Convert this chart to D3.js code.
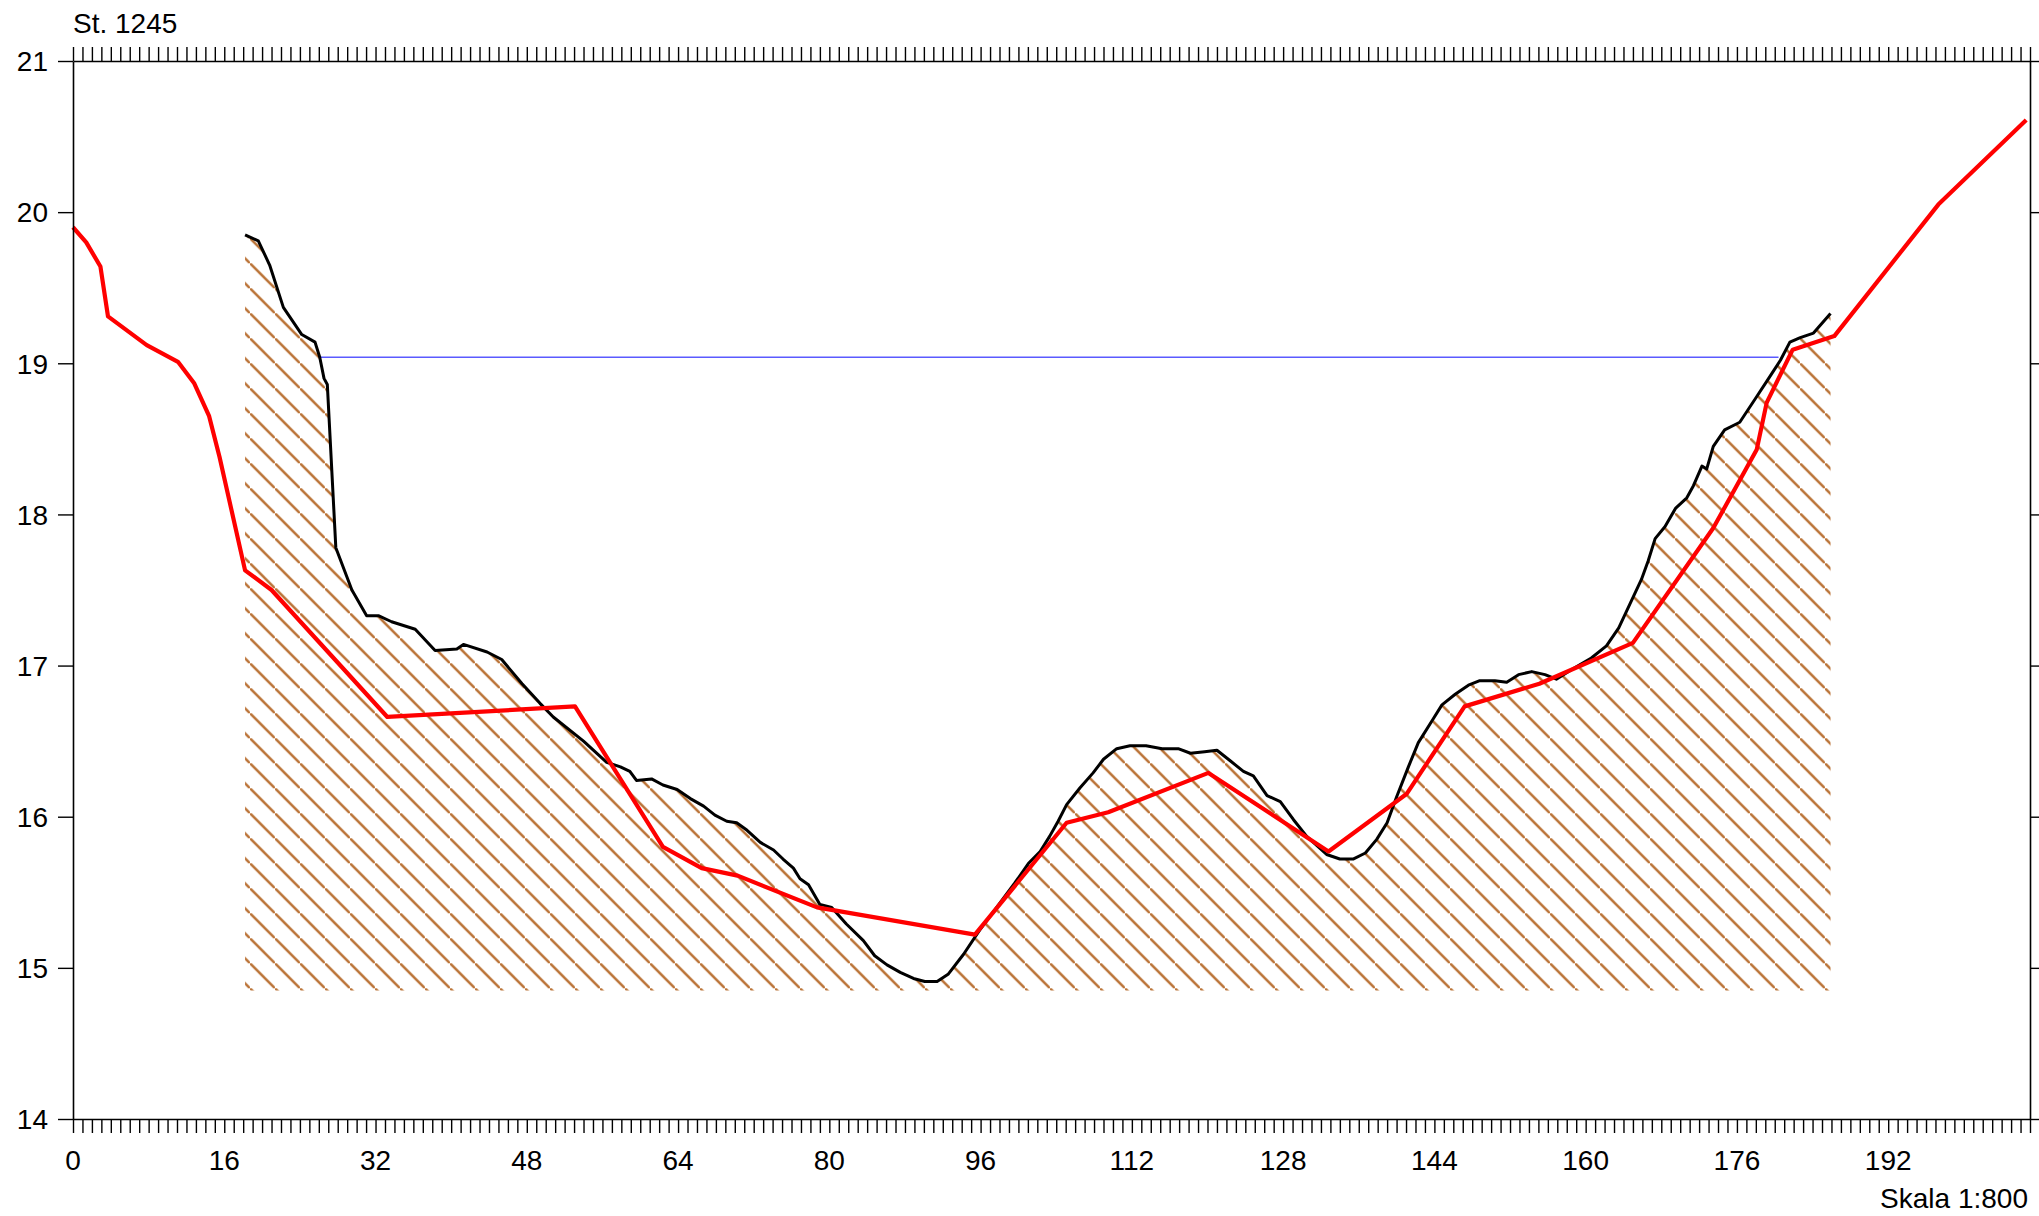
<!DOCTYPE html>
<html>
<head>
<meta charset="utf-8">
<script src="https://cdn.jsdelivr.net/npm/d3@7"></script>
<style>
  html, body { margin: 0; padding: 0; background: #fff; }
  svg { display: block; font-family: "Liberation Sans", Arial, sans-serif; }
</style>
</head>
<body>
<div id="chart"></div>
<script>
// profile data: [station, elevation]
const terrain = [
  [18.2,19.85],[19.6,19.81],[20.8,19.65],[22.25,19.37],[24.2,19.19],[25.6,19.14],[26.1,19.04],
  [26.55,18.90],[26.9,18.86],[27.8,17.78],[29.5,17.50],[31.06,17.33],[32.3,17.33],[33.7,17.29],
  [36.2,17.24],[38.3,17.10],[40.6,17.11],[41.3,17.14],[43.8,17.09],[45.35,17.04],[47.5,16.88],
  [49.4,16.75],[50.8,16.66],[54.0,16.50],[56.45,16.36],[57.9,16.33],[58.9,16.30],[59.6,16.24],
  [61.2,16.25],[62.4,16.21],[63.9,16.18],[65.3,16.12],[66.7,16.07],[67.9,16.01],[69.15,15.97],
  [70.2,15.96],[71.3,15.91],[72.7,15.83],[74.1,15.78],[75.1,15.72],[76.2,15.66],[76.9,15.59],
  [77.8,15.55],[79.0,15.42],[80.25,15.40],[81.8,15.29],[83.6,15.18],[84.8,15.08],[86.1,15.02],
  [87.5,14.97],[88.9,14.93],[90.1,14.91],[91.4,14.91],[92.6,14.96],[94.2,15.09],[95.9,15.25],
  [97.7,15.40],[99.6,15.56],[101.05,15.69],[102.3,15.77],[103.3,15.87],[104.2,15.97],[105.1,16.08],
  [106.5,16.19],[107.9,16.29],[109.0,16.38],[110.4,16.45],[111.8,16.47],[113.5,16.47],[115.2,16.45],
  [116.9,16.45],[118.2,16.42],[119.7,16.43],[121.0,16.44],[122.4,16.37],[123.8,16.30],[124.85,16.27],
  [126.3,16.14],[127.7,16.10],[129.1,15.98],[130.5,15.87],[131.55,15.81],[132.6,15.75],[134.0,15.72],
  [135.4,15.72],[136.7,15.76],[137.9,15.85],[139.0,15.96],[140.0,16.13],[141.25,16.33],[142.3,16.49],
  [143.9,16.65],[144.8,16.74],[146.2,16.81],[147.6,16.87],[148.8,16.90],[150.4,16.90],[151.65,16.89],
  [152.9,16.94],[154.3,16.96],[155.7,16.94],[156.9,16.91],[158.7,16.98],[160.6,17.05],[162.2,17.13],
  [163.5,17.25],[164.7,17.41],[165.9,17.57],[166.6,17.69],[167.35,17.84],[168.4,17.92],[169.5,18.04],
  [170.7,18.11],[171.4,18.19],[172.3,18.32],[172.8,18.30],[173.5,18.45],[174.7,18.56],[176.3,18.61],
  [178.1,18.78],[179.15,18.88],[180.6,19.02],[181.6,19.14],[182.7,19.17],[184.1,19.20],[185.9,19.33]
];

const design = [
  [0,19.90],[1.4,19.80],[2.9,19.64],[3.7,19.31],[7.8,19.12],[11.1,19.01],[12.8,18.87],[14.4,18.65],
  [15.5,18.38],[18.2,17.63],[21.0,17.50],[33.25,16.66],[53.1,16.73],[62.4,15.80],[66.5,15.66],
  [70.3,15.61],[78.7,15.40],[95.4,15.22],[105.1,15.96],[109.5,16.03],[120.1,16.29],[132.8,15.77],
  [141.05,16.15],[147.2,16.73],[155.1,16.88],[165.0,17.15],[173.5,17.91],[178.1,18.43],[179.15,18.74],
  [181.9,19.09],[186.3,19.18],[197.3,20.05],[206.6,20.61]
];

const waterLevel = 19.04;
const waterFrom = 26.1, waterTo = 180.4;
const hatchBottom = 14.85;

const xLabels = d3.range(0, 193, 16);
const yTicks = [14, 15, 16, 17, 18, 19, 20, 21];
const title = "St. 1245";
const scaleNote = "Skala 1:800";

const width = 2039, height = 1216;

const svg = d3.select("#chart").append("svg")
  .attr("width", width)
  .attr("height", height);

const x = d3.scaleLinear().domain([0, 207]).range([73, 2030]);
const y = d3.scaleLinear().domain([14, 21]).range([1119, 61]);

// hatch pattern
const defs = svg.append("defs");
defs.append("pattern")
  .attr("id", "hatch")
  .attr("patternUnits", "userSpaceOnUse")
  .attr("width", 25)
  .attr("height", 25)
  .attr("y", 13.3)
  .append("path")
  .attr("d", "M0,0L25,25")
  .attr("stroke", "#bb7438")
  .attr("stroke-width", 2.6);

// hatched ground
svg.append("path")
  .datum(terrain)
  .attr("fill", "url(#hatch)")
  .attr("d", d3.area()
    .x(d => x(d[0]))
    .y0(y(hatchBottom))
    .y1(d => y(d[1])));

// water level
svg.append("line")
  .attr("x1", x(waterFrom)).attr("x2", x(waterTo))
  .attr("y1", y(waterLevel)).attr("y2", y(waterLevel))
  .attr("stroke", "#5a5aff")
  .attr("stroke-width", 1.5);

const line = d3.line().x(d => x(d[0])).y(d => y(d[1]));

// measured terrain
svg.append("path")
  .datum(terrain)
  .attr("fill", "none")
  .attr("stroke", "#000")
  .attr("stroke-width", 3)
  .attr("stroke-linejoin", "round")
  .attr("d", line);

// design line
svg.append("path")
  .datum(design)
  .attr("fill", "none")
  .attr("stroke", "#ff0000")
  .attr("stroke-width", 4.2)
  .attr("stroke-linejoin", "round")
  .attr("d", line);

// axes
const minor = d3.range(0, 208, 1);

const gTop = svg.append("g")
  .attr("transform", `translate(0,${y(21)})`)
  .call(d3.axisTop(x).tickValues(minor).tickSize(14).tickSizeOuter(0).tickFormat(""));

const gBottom = svg.append("g")
  .attr("transform", `translate(0,${y(14)})`)
  .call(d3.axisBottom(x).tickValues(minor).tickSize(14).tickSizeOuter(0).tickFormat(""));

const gLeft = svg.append("g")
  .attr("transform", `translate(${x(0)},0)`)
  .call(d3.axisLeft(y).tickValues(yTicks).tickSize(15).tickSizeOuter(0).tickFormat(d3.format("d")));

const gRight = svg.append("g")
  .attr("transform", `translate(${x(207)},0)`)
  .call(d3.axisRight(y).tickValues(yTicks).tickSize(15).tickSizeOuter(0).tickFormat(""));

[gTop, gBottom, gLeft, gRight].forEach(g => {
  g.select(".domain").attr("stroke", "#000").attr("stroke-width", 1.6);
  g.selectAll(".tick line").attr("stroke", "#000").attr("stroke-width", 1.4);
});

gLeft.selectAll(".tick text")
  .attr("x", -25)
  .attr("dy", "0.35em")
  .attr("fill", "#000")
  .style("font-size", "28px")
  .style("font-family", "'Liberation Sans', Arial, sans-serif");

// bottom labels every 16
svg.append("g")
  .selectAll("text")
  .data(xLabels)
  .enter().append("text")
  .attr("x", d => x(d))
  .attr("y", 1170)
  .attr("text-anchor", "middle")
  .style("font-size", "28px")
  .text(d => d);

svg.append("text")
  .attr("x", 73)
  .attr("y", 33)
  .style("font-size", "28px")
  .text(title);

svg.append("text")
  .attr("x", 2028)
  .attr("y", 1208)
  .attr("text-anchor", "end")
  .style("font-size", "28px")
  .text(scaleNote);
</script>
</body>
</html>
